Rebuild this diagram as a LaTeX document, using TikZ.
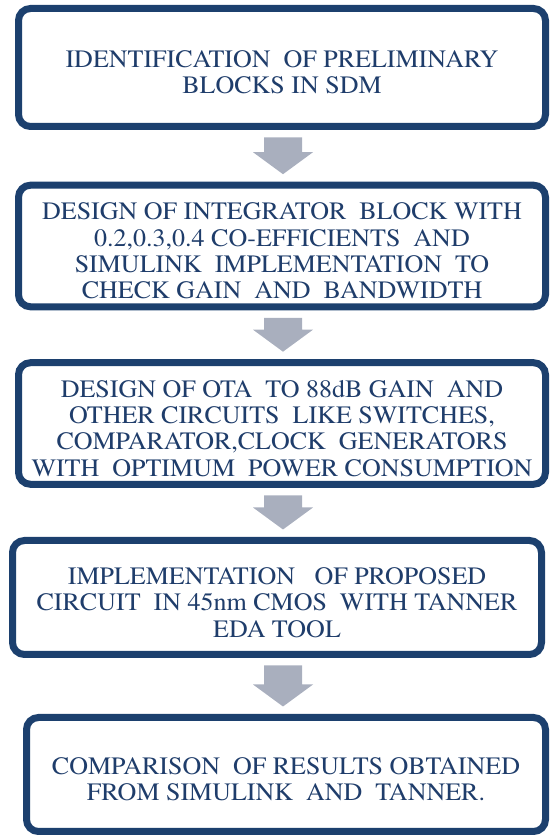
\documentclass[tikz,border=0pt]{standalone}
\usepackage[T1]{fontenc}
\usepackage{times}
\usepackage{graphicx}
\usetikzlibrary{calc}
\definecolor{boxblue}{HTML}{1C406E}
\definecolor{txtblue}{HTML}{1F3D6B}
\definecolor{arrgray}{HTML}{A9AFBE}
\tikzset{
  flowbox/.style={draw=boxblue, line width=7pt, rounded corners=12pt, fill=white,
    text=txtblue, inner sep=0pt,
    font=\fontsize{25}{26.4}\selectfont},
  blockarr/.style={fill=arrgray, draw=none}
}
\newcommand\boxtext[1]{\raisebox{0pt}[\dimexpr\height+16pt\relax]{\scalebox{1.04}[1]{\begin{tabular}{@{}c@{}}#1\end{tabular}}}}
\newcommand\blockarrow[2]{%
  \fill[blockarr] ($(#1.south -| ax)+(-19,-7.5)$) -- ($(#1.south -| ax)+(19,-7.5)$)
    -- ($(#2.north -| ax)+(19,29.5)$) -- ($(#2.north -| ax)+(30,29.5)$)
    -- ($(#2.north -| ax)+(0,7.5)$) -- ($(#2.north -| ax)+(-30,29.5)$)
    -- ($(#2.north -| ax)+(-19,29.5)$) -- cycle;}
\begin{document}
\begin{tikzpicture}[x=1pt,y=1pt]
\useasboundingbox (0,0) rectangle (551,835);
\coordinate (ax) at (283,0);
\node[flowbox, minimum width=527pt, minimum height=118pt] (b1) at (282,767.5)
  {\boxtext{IDENTIFICATION\ \ OF PRELIMINARY\\BLOCKS IN SDM}};
\node[flowbox, minimum width=527pt, minimum height=117pt] (b2) at (282,589)
  {\boxtext{DESIGN OF INTEGRATOR\ \ BLOCK WITH\\0.2,0.3,0.4 CO-EFFICIENTS\ \ AND\\SIMULINK\ \ IMPLEMENTATION\ \ TO\\CHECK GAIN\ \ AND\ \ BANDWIDTH}};
\node[flowbox, minimum width=527pt, minimum height=118pt] (b3) at (282,411.5)
  {\boxtext{DESIGN OF OTA\ \ TO 88dB GAIN\ \ AND\\OTHER CIRCUITS\ \ LIKE SWITCHES,\\COMPARATOR,CLOCK\ \ GENERATORS\\WITH\ \ OPTIMUM\ \ POWER CONSUMPTION}};
\node[flowbox, minimum width=529pt, minimum height=114pt] (b4) at (277,237.5)
  {\boxtext{IMPLEMENTATION\ \ \ OF PROPOSED\\CIRCUIT\ \ IN 45nm CMOS\ \ WITH TANNER\\EDA TOOL}};
\node[flowbox, minimum width=519pt, minimum height=114pt] (b5) at (286,60.5)
  {\boxtext{COMPARISON\ \ OF RESULTS OBTAINED\\FROM SIMULINK\ \ AND\ \ TANNER.}};
\blockarrow{b1}{b2}
\blockarrow{b2}{b3}
\blockarrow{b3}{b4}
\blockarrow{b4}{b5}
\end{tikzpicture}
\end{document}
